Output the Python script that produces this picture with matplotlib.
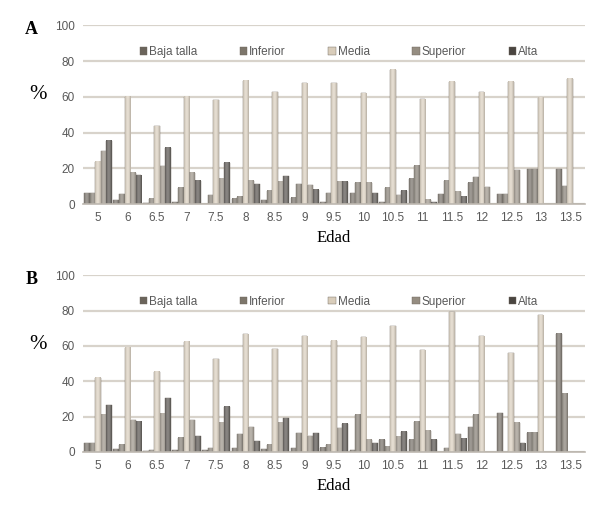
import numpy as np
import matplotlib
matplotlib.use('Agg')
import matplotlib.pyplot as plt
from matplotlib.colors import LinearSegmentedColormap, to_rgb

# Edad (years) categories
edad = ['5', '6', '6.5', '7', '7.5', '8', '8.5', '9', '9.5', '10',
        '10.5', '11', '11.5', '12', '12.5', '13', '13.5']
series = ['Baja talla', 'Inferior', 'Media', 'Superior', 'Alta']
colors = ['#6b645b', '#7d766b', '#d9cdbb', '#958d81', '#4a4540']

# Panel A (%)
baja_A = [6, 2, 0.5, 1, 0, 3, 2, 3.5, 1, 6, 1, 14, 5.5, 12, 5.5, 19.5, 19.5]
inf_A = [6, 5.5, 3, 9, 5, 4, 7.5, 11, 6, 12, 9, 21.5, 13, 15, 5.5, 19.5, 10]
media_A = [23.5, 60, 43.5, 60, 58, 69, 62.5, 67.5, 67.5, 62, 75, 58.5, 68.5, 62.5, 68.5, 59.5, 70]
sup_A = [29.5, 17.5, 21, 17.5, 14, 13, 12.5, 10.5, 12.5, 12, 5, 2.5, 7, 9.5, 19, 0, 0]
alta_A = [35.5, 16, 31.5, 13, 23, 11, 15.5, 8, 12.5, 6, 7.5, 1, 4, 0, 0, 0, 0]

# Panel B (%)
baja_B = [5, 1.5, 0.5, 1, 1, 2, 1.5, 2, 2.5, 1, 7, 7, 0, 14, 22, 11, 67]
inf_B = [5, 4, 1, 8, 2, 10, 4, 10.5, 4, 21, 3, 17, 2, 21, 0, 11, 33]
media_B = [42, 59, 45.5, 62.5, 52.5, 66.5, 58, 65.5, 63, 65, 71, 57.5, 79, 65.5, 56, 77.5, 0]
sup_B = [21, 18, 21.5, 18, 16.5, 14, 16.5, 9, 13.5, 7, 8.5, 12, 10, 0, 16.5, 0, 0]
alta_B = [26.5, 17, 30.5, 9, 25.5, 6, 19, 10.5, 16, 5, 11.5, 7, 7.5, 0, 5, 0, 0]

serif = ['Liberation Serif', 'DejaVu Serif']
sans = ['Liberation Sans', 'DejaVu Sans']
tick_col = '#595959'

# horizontal shading across a bar (Excel style gradient)
shade = np.array([[0.55, 0.8, 0.95, 1.0, 0.9, 0.7, 0.45]])


def shade_cmap(c):
    r = np.array(to_rgb(c))
    dark = r * 0.72
    light = r + (1 - r) * 0.35
    return LinearSegmentedColormap.from_list('s', [dark, light])


def draw_panel(ax, data, letter, letter_y):
    x = np.arange(len(edad))
    w = 0.19
    for i, (name, vals) in enumerate(zip(series, data)):
        bars = ax.bar(x + (i - 2) * w, vals, width=w, color=colors[i],
                      edgecolor='#6a645b', linewidth=0.3, label=name, zorder=3)
        cm = shade_cmap(colors[i])
        for p in bars:
            if p.get_height() > 0:
                ax.imshow(shade, cmap=cm, vmin=0, vmax=1, aspect='auto',
                          extent=[p.get_x(), p.get_x() + p.get_width(), 0, p.get_height()],
                          zorder=3.5, interpolation='bilinear')
    ax.set_xlim(-0.5, len(edad) - 0.5)
    ax.set_ylim(0, 100)
    ax.set_aspect('auto')
    ax.set_yticks(range(0, 101, 20))
    ax.set_xticks(x)
    ax.set_xticklabels(edad)
    ax.grid(axis='y', color='#d8d3cb', linewidth=1.6, zorder=0)
    for s in ['top', 'right', 'left']:
        ax.spines[s].set_visible(False)
    ax.spines['bottom'].set_color('#bdb8b0')
    ax.spines['bottom'].set_linewidth(1.2)
    ax.spines['bottom'].set_zorder(4)
    ax.tick_params(axis='both', length=0, labelsize=8.5, labelcolor=tick_col, pad=6)
    for lab in ax.get_xticklabels() + ax.get_yticklabels():
        lab.set_family(sans)
    ax.set_xlabel('Edad', family=serif, fontsize=12, labelpad=4)
    ax.set_ylabel('%', family=serif, fontsize=15, rotation=0, va='center')
    ax.yaxis.set_label_coords(-0.09, 0.61)
    leg = ax.legend(loc='center', bbox_to_anchor=(0.51, 0.85), ncol=5, frameon=False,
                    handlelength=0.6, handleheight=0.6, handletextpad=0.2,
                    columnspacing=3.6, prop={'family': sans, 'size': 8.5})
    for t in leg.get_texts():
        t.set_color(tick_col)
    ax.figure.text(0.042, letter_y, letter, family=serif, fontsize=13,
                   fontweight='bold', va='center')


fig = plt.figure(figsize=(6.03, 5.05), dpi=100)
axA = fig.add_axes([0.138, 0.596, 0.832, 0.354])
axB = fig.add_axes([0.138, 0.105, 0.832, 0.350])

draw_panel(axA, [baja_A, inf_A, media_A, sup_A, alta_A], 'A', 1 - 30 / 505)
draw_panel(axB, [baja_B, inf_B, media_B, sup_B, alta_B], 'B', 1 - 280 / 505)

fig.savefig('out.png', dpi=100, facecolor='white')
